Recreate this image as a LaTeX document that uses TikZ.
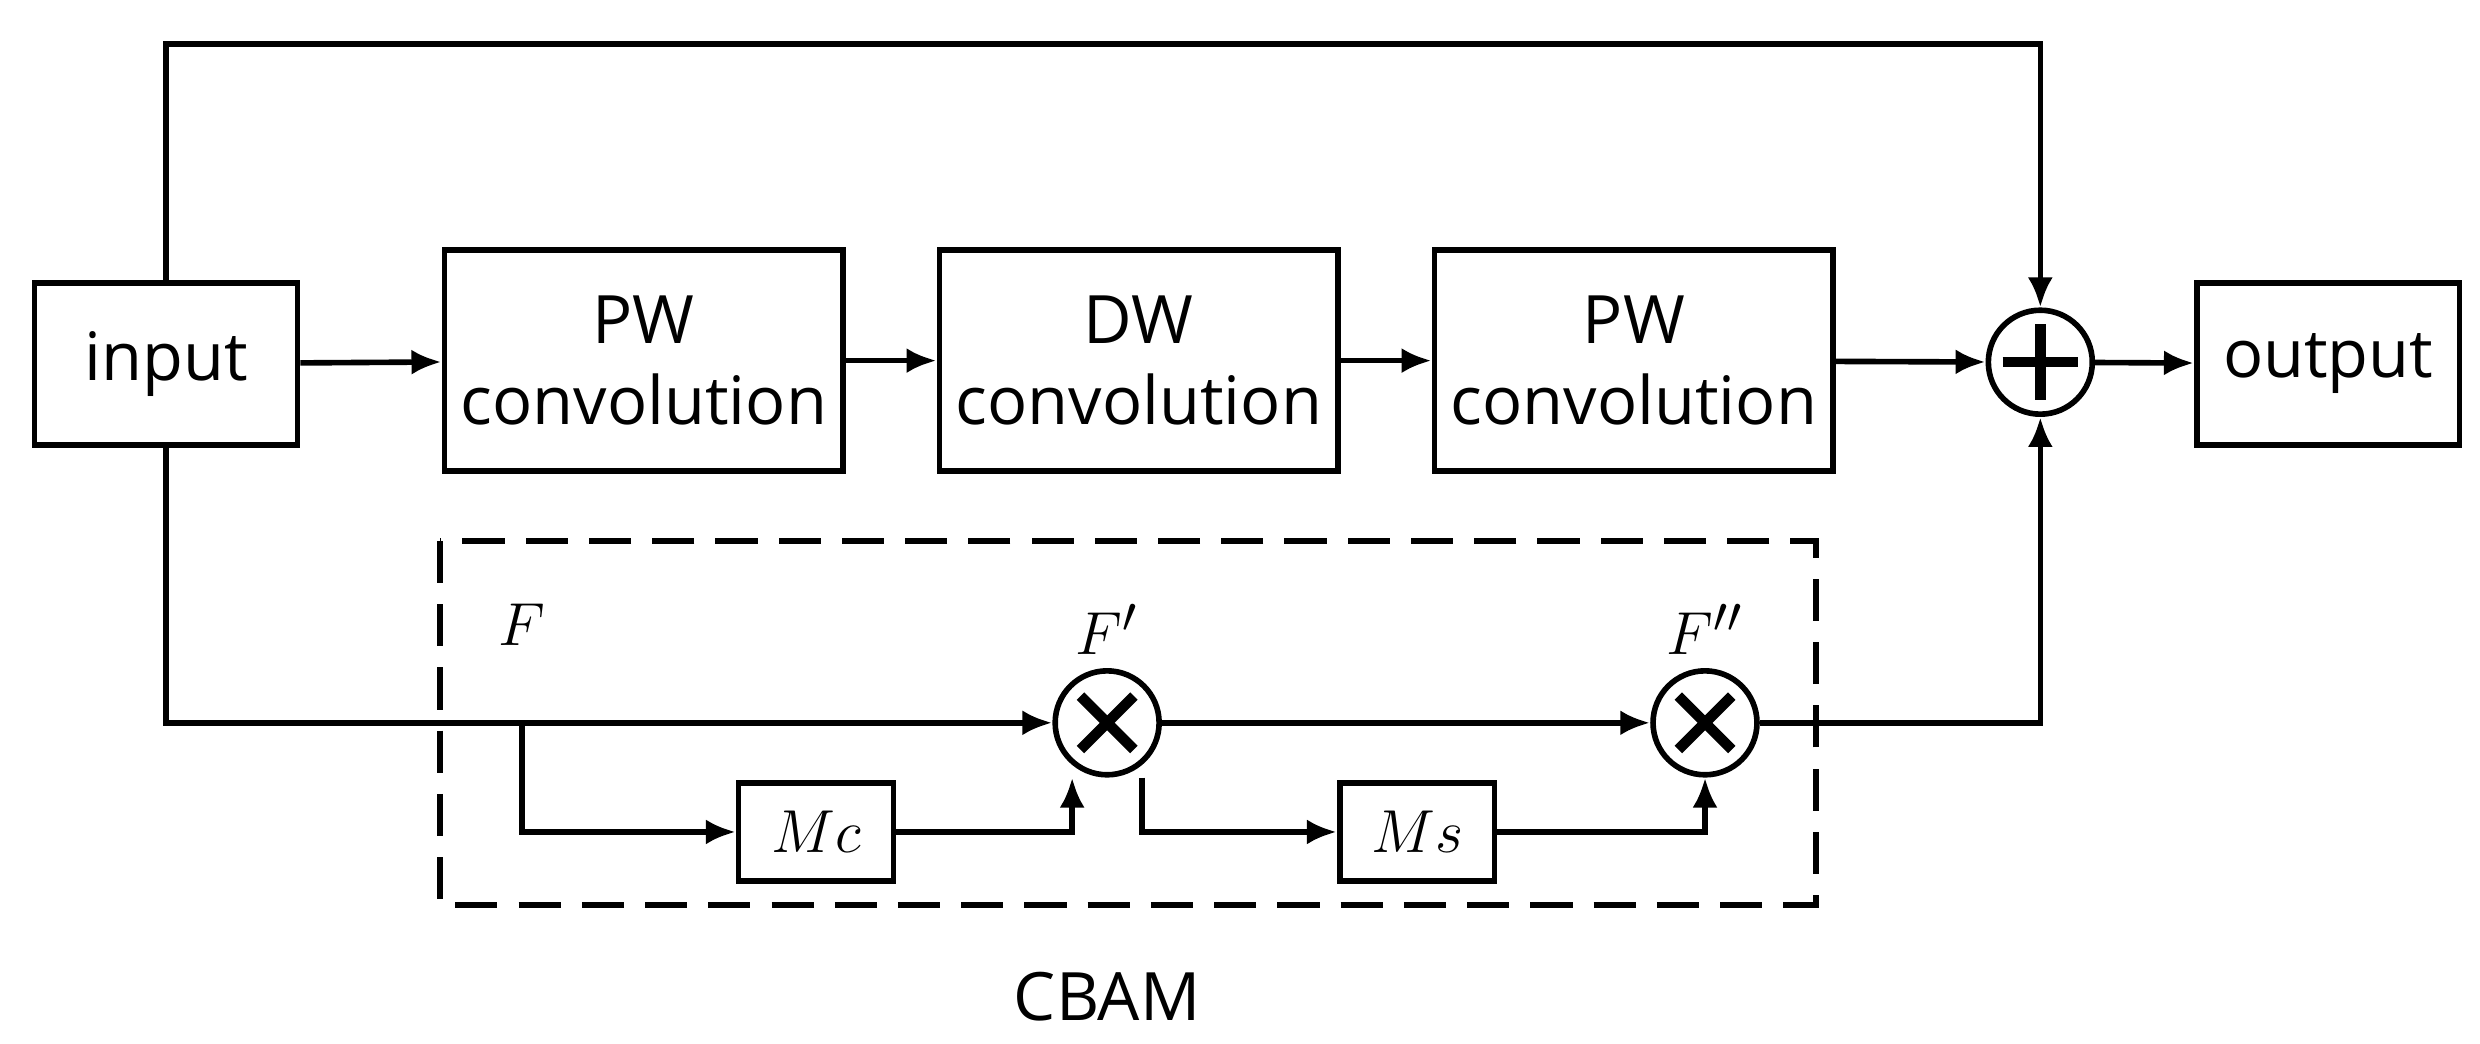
\documentclass[tikz,border=0pt]{standalone}
\usepackage{fontspec}
\setmainfont{Open Sans}
\usetikzlibrary{positioning,arrows.meta}
\tikzset{
	block/.style={draw, rectangle, line width=1.6pt, minimum width=3.99cm, minimum height=2.21cm, align=center, font=\fontsize{19}{23}\selectfont},
	io/.style={draw, rectangle, line width=1.6pt, minimum width=2.63cm, minimum height=1.62cm, font=\fontsize{19}{23}\selectfont},
	small/.style={draw, rectangle, line width=1.6pt, minimum width=1.55cm, minimum height=0.98cm, font=\fontsize{19}{23}\selectfont},
	op/.style={draw, circle, line width=1.6pt, minimum size=1.04cm, inner sep=0pt},
	sym/.style={line width=3pt, shorten >=0.17cm, shorten <=0.17cm},
	arr/.style={-{Latex[length=0.3cm,width=0.25cm]}, line width=1.6pt},
	lbl/.style={font=\fontsize{19}{23}\selectfont}
}
\begin{document}
\begin{tikzpicture}[x=0.01582cm, y=-0.01582cm]
	\useasboundingbox (0,0) rectangle (1568,660);
	
	\node [io] at (105, 230) (input){input};
	\node [block] at (407, 228) (pw1){PW\\convolution};
	\node [block] at (720, 228) (dw){DW\\convolution};
	\node [block] at (1033, 228) (pw2){PW\\convolution};
	\node [op] at (1290, 229) (add){};
	\node [io] at (1472, 230) (output){output};
	
	\draw [sym] (add.north) -- (add.south);
	\draw [sym] (add.west) -- (add.east);
	
	\draw [arr] (input) -- (pw1);
	\draw [arr] (pw1) -- (dw);
	\draw [arr] (dw) -- (pw2);
	\draw [arr] (pw2) -- (add);
	\draw [arr] (add) -- (output);
	\draw [arr] (input.north) |- (200, 28) -| (add.north);
	
	% CBAM
	\draw [dashed, line width=1.6pt, dash pattern=on 12pt off 6pt] (278, 342) rectangle (1148, 572);
	\node [op] at (700, 457) (mul1){};
	\node [op] at (1078, 457) (mul2){};
	\foreach \m in {mul1, mul2}{
		\draw [sym] (\m.45) -- (\m.225);
		\draw [sym] (\m.135) -- (\m.315);
	}
	\node [small] at (516, 526) (mc){$Mc$};
	\node [small] at (896, 526) (ms){$Ms$};
	\coordinate (split1) at (330, 457);
	\coordinate (split2) at (722, 457);
	
	\draw [arr] (input.south) |- (mul1.west);
	\draw [arr] (split1) |- (mc.west);
	\draw [arr] (mc.east) -| ([xshift=-0.35cm]mul1.south);
	\draw [arr] (mul1.east) -- (mul2.west);
	\draw [line width=1.6pt] ([xshift=0.35cm]mul1.south) |- (800, 526);
	\draw [arr] (800, 526) -- (ms.west);
	\draw [arr] (ms.east) -| (mul2.south);
	\draw [arr] (mul2.east) -| (add.south);
	
	\node [lbl] at (330, 395) (f){$F$};
	\node [lbl] at (700, 398) (f1){$F'$};
	\node [lbl] at (1078, 398) (f2){$F''$};
	\node [lbl] at (700, 630) (cbam){CBAM};
\end{tikzpicture}
\end{document}
